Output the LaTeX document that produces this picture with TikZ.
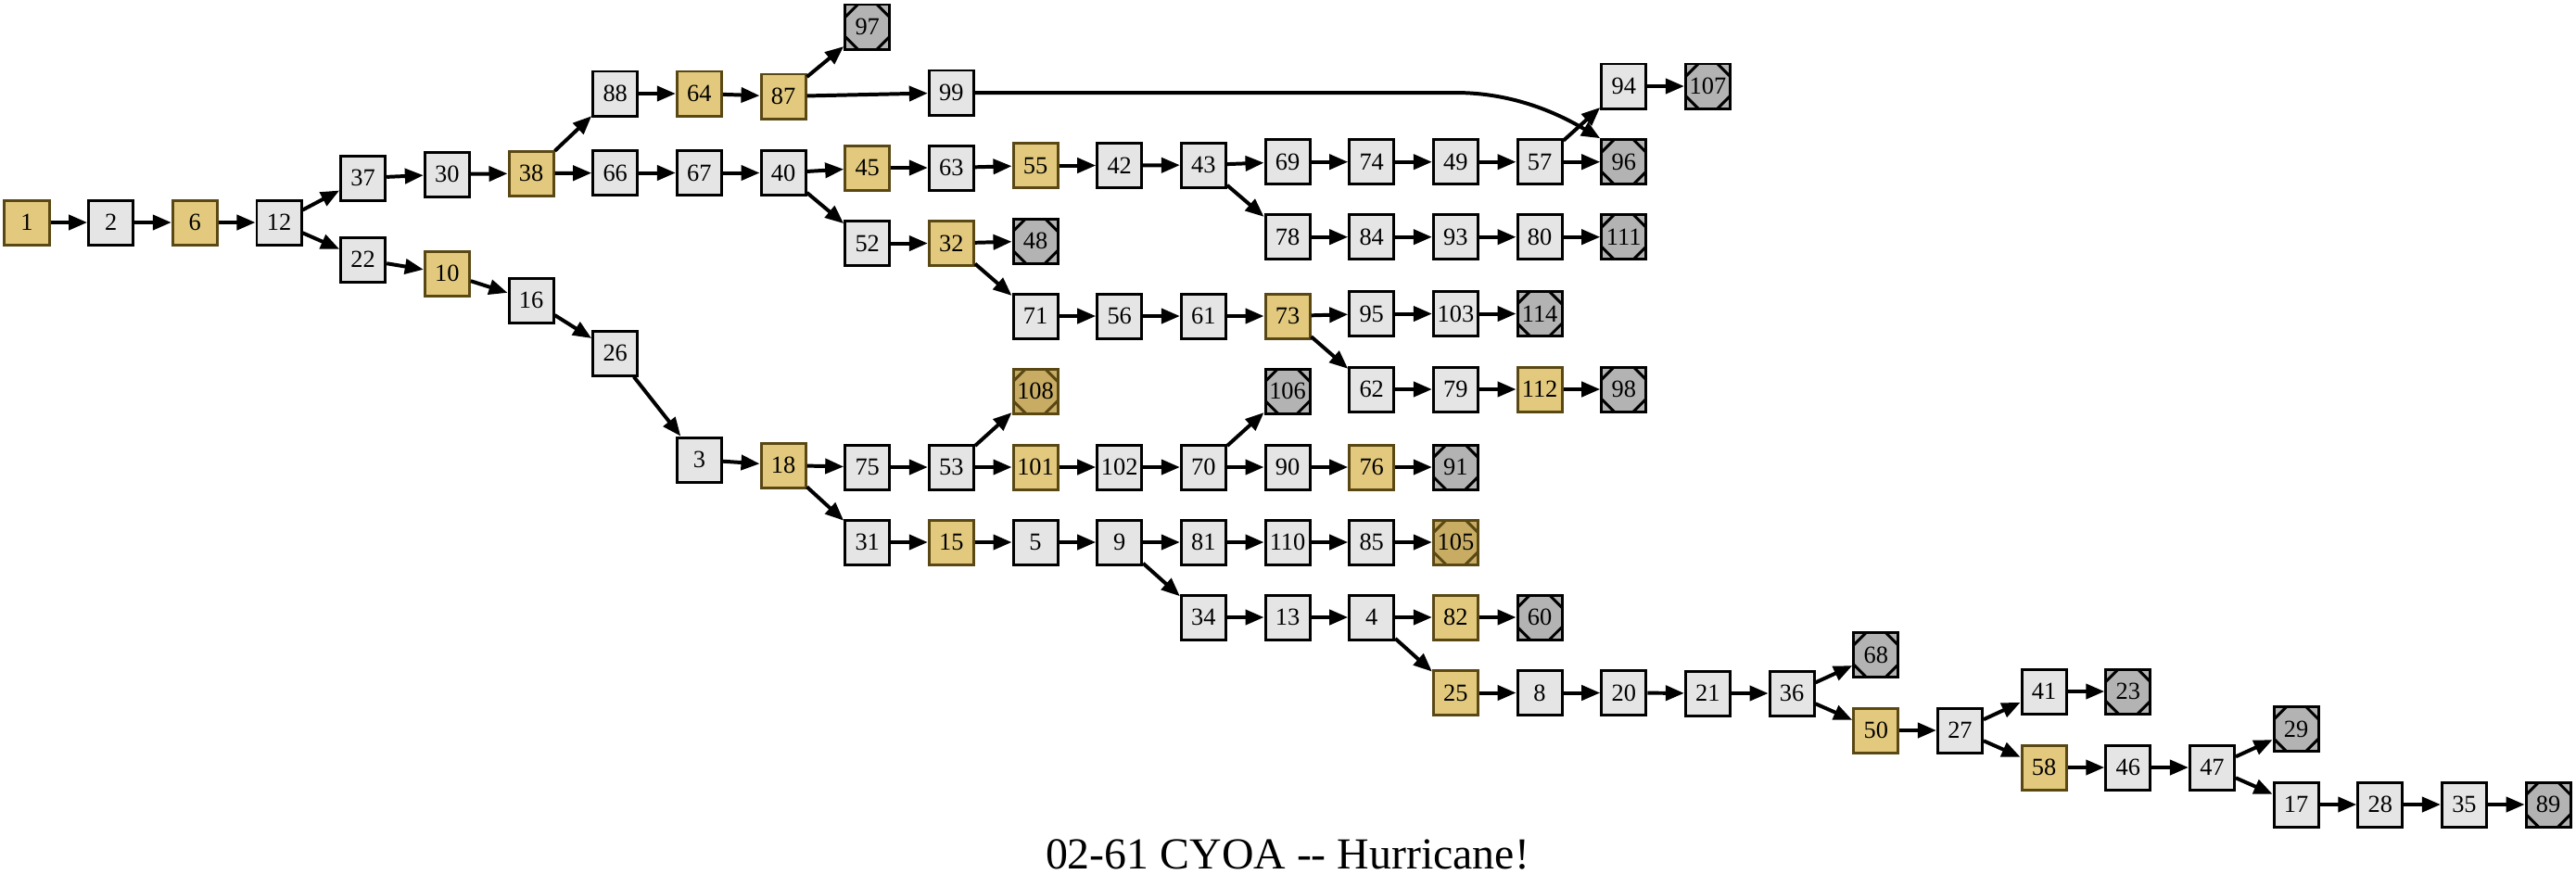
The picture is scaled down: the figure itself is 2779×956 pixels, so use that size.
\documentclass[tikz,border=0pt]{standalone}
\usepackage{fontspec}
\setmainfont{Liberation Serif}
\usetikzlibrary{arrows.meta}
\definecolor{plainfill}{RGB}{229,229,229}
\definecolor{goldfill}{RGB}{226,201,125}
\definecolor{termfill}{RGB}{179,179,179}
\definecolor{termgoldfill}{RGB}{200,172,100}
\definecolor{goldline}{RGB}{90,72,20}
\tikzset{
  base/.style={draw, line width=0.85pt, minimum width=0.48cm, minimum height=0.48cm, inner sep=0pt, font=\fontsize{7.5}{8}\selectfont},
  pl/.style={base, fill=plainfill},
  gd/.style={base, fill=goldfill, draw=goldline},
  corners/.style={path picture={
    \draw[line width=0.85pt, #1]
      ([xshift=0.135cm]path picture bounding box.north west) -- ([yshift=-0.135cm]path picture bounding box.north west)
      ([xshift=-0.135cm]path picture bounding box.north east) -- ([yshift=-0.135cm]path picture bounding box.north east)
      ([xshift=0.135cm]path picture bounding box.south west) -- ([yshift=0.135cm]path picture bounding box.south west)
      ([xshift=-0.135cm]path picture bounding box.south east) -- ([yshift=0.135cm]path picture bounding box.south east);}},
  tm/.style={base, fill=termfill, corners=black},
  tg/.style={base, fill=termgoldfill, draw=goldline, corners=goldline},
  edge/.style={line width=1.13pt, -{Triangle[length=0.2cm, width=0.16cm]}},
  titletext/.style={font=\fontsize{13.6}{16}\selectfont}
}
\newcommand{\nd}[4]{\node[#1] (n#2) at ({29+90.67*#3},#4) {#2};}
\begin{document}
\begin{tikzpicture}[x=0.01cm, y=-0.01cm]
\useasboundingbox (0,0) rectangle (2779,956);
\nd{gd}{1}{0}{240}
\nd{pl}{2}{1}{240}
\nd{gd}{6}{2}{240}
\nd{pl}{12}{3}{240}
\nd{pl}{37}{4}{192}
\nd{pl}{22}{4}{280}
\nd{pl}{30}{5}{188}
\nd{gd}{10}{5}{295}
\nd{gd}{38}{6}{187}
\nd{pl}{16}{6}{324}
\nd{pl}{88}{7}{101}
\nd{pl}{66}{7}{186.5}
\nd{pl}{26}{7}{381}
\nd{gd}{64}{8}{101}
\nd{pl}{67}{8}{186.5}
\nd{pl}{3}{8}{496}
\nd{gd}{87}{9}{104}
\nd{pl}{40}{9}{186.5}
\nd{gd}{18}{9}{502}
\nd{tm}{97}{10}{29}
\nd{gd}{45}{10}{181}
\nd{pl}{52}{10}{262.5}
\nd{pl}{75}{10}{504}
\nd{pl}{31}{10}{585}
\nd{pl}{99}{11}{100}
\nd{pl}{63}{11}{181}
\nd{gd}{32}{11}{262.5}
\nd{pl}{53}{11}{504}
\nd{gd}{15}{11}{585}
\nd{gd}{55}{12}{178.5}
\nd{tm}{48}{12}{260}
\nd{pl}{71}{12}{341}
\nd{tg}{108}{12}{422}
\nd{gd}{101}{12}{504}
\nd{pl}{5}{12}{585}
\nd{pl}{42}{13}{178.5}
\nd{pl}{56}{13}{341}
\nd{pl}{102}{13}{504}
\nd{pl}{9}{13}{585}
\nd{pl}{43}{14}{178}
\nd{pl}{61}{14}{341}
\nd{pl}{70}{14}{504}
\nd{pl}{81}{14}{585}
\nd{pl}{34}{14}{666}
\nd{pl}{69}{15}{174.7}
\nd{pl}{78}{15}{255.7}
\nd{gd}{73}{15}{341}
\nd{tm}{106}{15}{422}
\nd{pl}{90}{15}{504}
\nd{pl}{110}{15}{585}
\nd{pl}{13}{15}{666}
\nd{pl}{74}{16}{174.7}
\nd{pl}{84}{16}{255.7}
\nd{pl}{95}{16}{338.5}
\nd{pl}{62}{16}{420}
\nd{gd}{76}{16}{504}
\nd{pl}{85}{16}{585}
\nd{pl}{4}{16}{666}
\nd{pl}{49}{17}{174.7}
\nd{pl}{93}{17}{255.7}
\nd{pl}{103}{17}{338.5}
\nd{pl}{79}{17}{420}
\nd{tm}{91}{17}{504}
\nd{tg}{105}{17}{585}
\nd{gd}{82}{17}{666}
\nd{gd}{25}{17}{747.5}
\nd{pl}{57}{18}{174.7}
\nd{pl}{80}{18}{255.7}
\nd{tm}{114}{18}{338.5}
\nd{gd}{112}{18}{420}
\nd{tm}{60}{18}{666}
\nd{pl}{8}{18}{747.5}
\nd{pl}{94}{19}{93}
\nd{tm}{96}{19}{174.7}
\nd{tm}{111}{19}{255.7}
\nd{tm}{98}{19}{420}
\nd{pl}{20}{19}{747.5}
\nd{tm}{107}{20}{93}
\nd{pl}{21}{20}{748}
\nd{pl}{36}{21}{748}
\nd{tm}{68}{22}{706.5}
\nd{gd}{50}{22}{788}
\nd{pl}{27}{23}{788}
\nd{pl}{41}{24}{746}
\nd{gd}{58}{24}{828}
\nd{tm}{23}{25}{746}
\nd{pl}{46}{25}{828}
\nd{pl}{47}{26}{828}
\nd{tm}{29}{27}{786.5}
\nd{pl}{17}{27}{868}
\nd{pl}{28}{28}{868}
\nd{pl}{35}{29}{868}
\nd{tm}{89}{30}{868}
\coordinate (bend) at (1570,100);
\foreach \a/\b in {1/2,2/6,6/12,12/37,12/22,37/30,30/38,22/10,10/16,16/26,26/3,3/18,38/88,38/66,88/64,64/87,87/97,87/99,66/67,67/40,40/45,40/52,45/63,63/55,55/42,42/43,43/69,43/78,69/74,74/49,49/57,57/94,57/96,94/107,78/84,84/93,93/80,80/111,52/32,32/48,32/71,71/56,56/61,61/73,73/95,73/62,95/103,103/114,62/79,79/112,112/98,18/75,18/31,75/53,53/108,53/101,101/102,102/70,70/106,70/90,90/76,76/91,31/15,15/5,5/9,9/81,9/34,81/110,110/85,85/105,34/13,13/4,4/82,4/25,82/60,25/8,8/20,20/21,21/36,36/68,36/50,50/27,27/41,27/58,41/23,58/46,46/47,47/29,47/17,17/28,28/35,35/89}
  \draw[edge] (n\a) -- (n\b);
\draw[edge] (n99.east) -- (bend) .. controls (1640,100) and (1690,128) .. (n96.north west);
\node[titletext] (title) at (1389,922) {02-61 CYOA -{}- Hurricane!};
\end{tikzpicture}
\end{document}
